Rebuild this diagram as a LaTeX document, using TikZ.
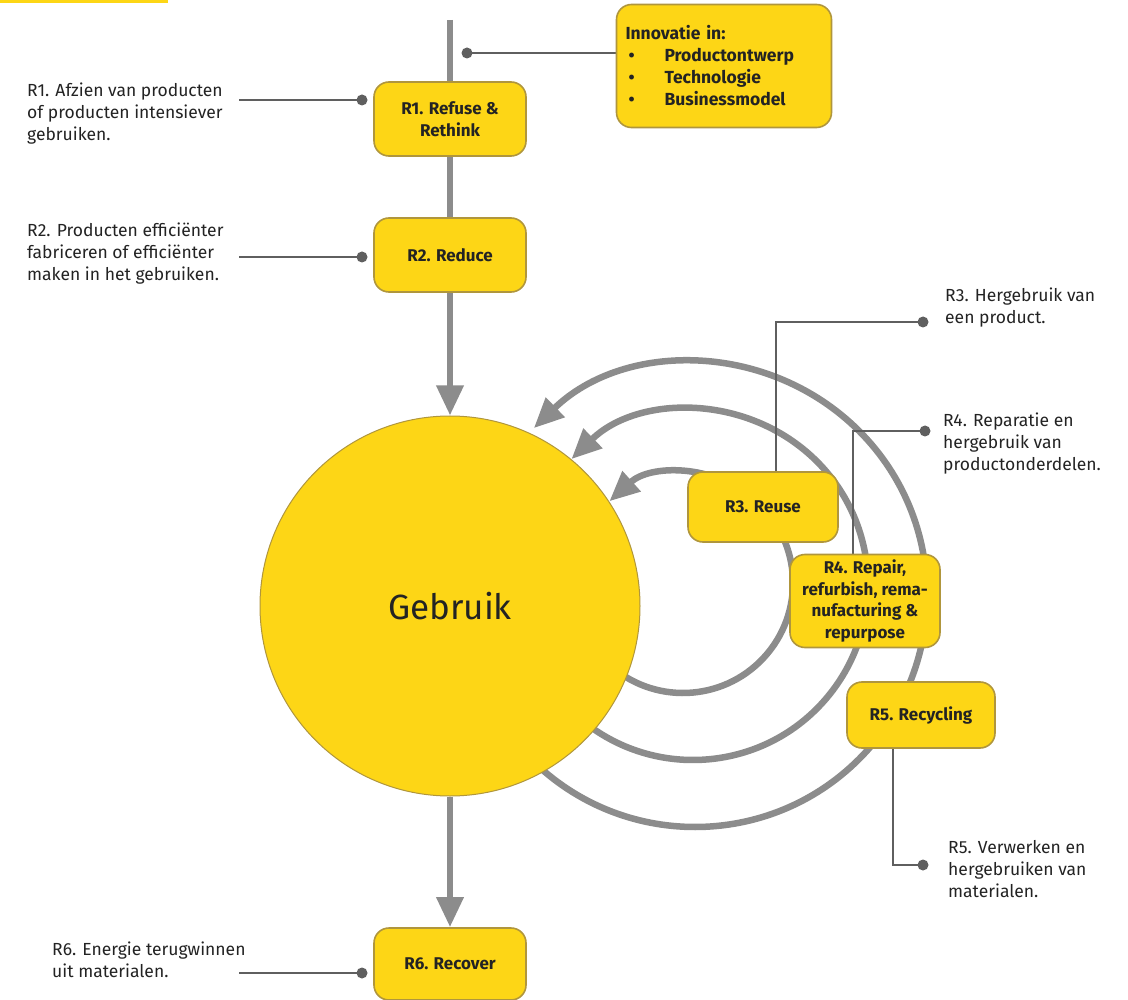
\documentclass[tikz,border=0pt]{standalone}
\usepackage{fontspec}
\setmainfont{Fira Sans}
\usetikzlibrary{arrows.meta,backgrounds}
\definecolor{yfill}{RGB}{253,214,22}
\definecolor{yedge}{RGB}{176,150,60}
\definecolor{flowgray}{RGB}{140,140,140}
\definecolor{linkgray}{RGB}{95,95,95}
\definecolor{txt}{RGB}{35,35,35}
\begin{document}
\begin{tikzpicture}[x=1pt,y=-1pt,
  rbox/.style={draw=yedge, line width=1.6pt, fill=yfill, rounded corners=15pt, align=center,
    font=\fontsize{17}{21.5}\selectfont\bfseries, text=txt, inner sep=0pt},
  lbl/.style={anchor=west, align=left, font=\fontsize{17.5}{22}\selectfont, text=txt, inner sep=0pt},
  flow/.style={draw=flowgray, line width=6.5pt},
  tipf/.style={-{Triangle[length=30pt,width=26pt]}},
  link/.style={draw=linkgray, line width=2.4pt},
  dotc/.style={circle, fill=linkgray, inner sep=0pt, minimum size=11pt}
]
\useasboundingbox (0,0) rectangle (1128,1000);

% boxes and main circle
\node[circle, draw=yedge, line width=1pt, fill=yfill, minimum size=380pt, inner sep=0pt,
  font=\fontsize{35}{40}\selectfont, text=txt] (geb) at (450,606) {Gebruik};
\node[rbox, minimum width=152pt, minimum height=74pt] (r1) at (450,119) {R1. Refuse \&\\Rethink};
\node[rbox, minimum width=152pt, minimum height=74pt] (r2) at (450,255) {R2. Reduce};
\node[rbox, minimum width=152pt, minimum height=72pt] (r6) at (450,964) {R6. Recover};
\node[rbox, minimum width=150pt, minimum height=70pt] (r3) at (763,507) {R3. Reuse};
\node[rbox, minimum width=150pt, minimum height=93pt] (r4) at (865,601)
  {R4. Repair,\\refurbish, rema-\\nufacturing \&\\repurpose};
\node[rbox, minimum width=148pt, minimum height=66pt] (r5) at (921,715) {R5. Recycling};
\node[rbox, text width=197pt, inner sep=9pt, minimum height=123pt, align=left,
  font=\fontsize{17.5}{22}\selectfont\bfseries] (innov) at (724,66)
  {Innovatie in:\\\hspace*{3pt}\makebox[36pt][l]{\textbullet}Productontwerp\\
   \hspace*{3pt}\makebox[36pt][l]{\textbullet}Technologie\\
   \hspace*{3pt}\makebox[36pt][l]{\textbullet}Businessmodel};

% explanation texts
\node[lbl] (t1) at (27,114) {R1. Afzien van producten\\of producten intensiever\\gebruiken.};
\node[lbl] (t2) at (27,254) {R2. Producten efficiënter\\fabriceren of efficiënter\\maken in het gebruiken.};
\node[lbl] (t6) at (52,960) {R6. Energie terugwinnen\\uit materialen.};
\node[lbl] (t3) at (945,308) {R3. Hergebruik van\\een product.};
\node[lbl] (t4) at (943,444) {R4. Reparatie en\\hergebruik van\\productonderdelen.};
\node[lbl] (t5) at (948,869) {R5. Verwerken en\\hergebruiken van\\materialen.};

% dots
\node[dotc] (d0) at (467,53) {};
\node[dotc] (d1) at (362,100) {};
\node[dotc] (d2) at (362,257) {};
\node[dotc] (d6) at (362,973) {};
\node[dotc] (d3) at (923,322) {};
\node[dotc] (d4) at (925,431) {};
\node[dotc] (d5) at (923,865) {};

\coordinate (ftop) at (450,20);
\coordinate (e1) at (239,100);
\coordinate (e2) at (239,257);
\coordinate (e6) at (239,973);
\coordinate (c3) at (776,322);
\coordinate (c4) at (853,431);
\coordinate (c5) at (893,865);

\begin{pgfonlayer}{background}
  \fill[white] (0,0) rectangle (1128,1000);
  \fill[yfill] (0,0) rectangle (168,3.5);
  % return loops
  \draw[flow, tipf] ([shift={(130:110)}]683,583) arc[start angle=130, end angle=-132, radius=110];
  \draw[flow, tipf] ([shift={(130:175)}]693,585) arc[start angle=130, end angle=-134, radius=175];
  \draw[flow, tipf] ([shift={(135:232)}]695,595) arc[start angle=135, end angle=-134, radius=232];
  % main flow
  \draw[flow, tipf] (ftop) -- (geb);
  \draw[flow, tipf] (geb) -- (r6);
  % leader lines
  \draw[link] (d0.center) -- (innov.west |- d0);
  \draw[link] (e1) -- (d1.center);
  \draw[link] (e2) -- (d2.center);
  \draw[link] (e6) -- (d6.center);
  \draw[link] (d3.center) -- (c3) -- (c3 |- r3.north);
  \draw[link] (d4.center) -- (c4) -- (c4 |- r4.north);
  \draw[link] (c5 |- r5.south) -- (c5) -- (d5.center);
\end{pgfonlayer}
\end{tikzpicture}
\end{document}
